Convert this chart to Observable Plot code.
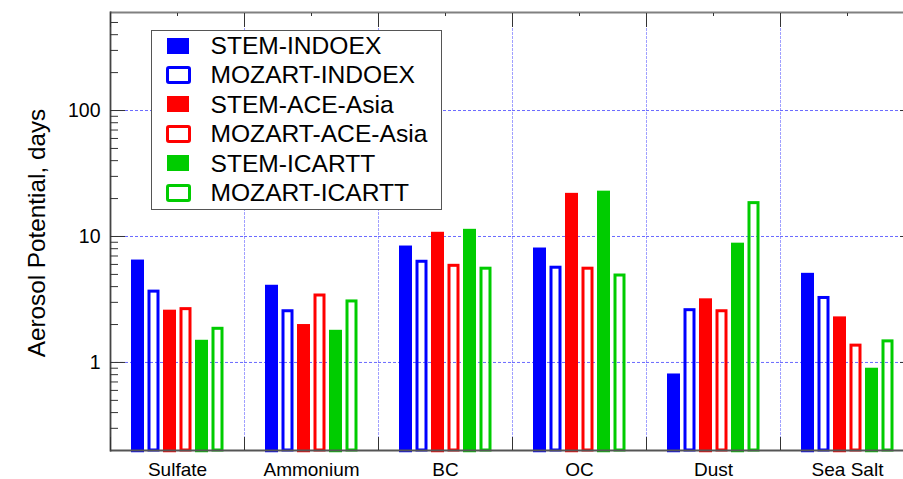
<!DOCTYPE html>
<html><head><meta charset="utf-8">
<script src="https://cdn.jsdelivr.net/npm/d3@7"></script>
<script src="https://cdn.jsdelivr.net/npm/@observablehq/plot@0.6"></script>
<style>
html,body{margin:0;padding:0;background:#fff;overflow:hidden;}
#wrap{position:relative;width:903px;height:479px;overflow:hidden;font-family:"Liberation Sans",Arial,sans-serif;}
#chart{position:absolute;left:0;top:0;width:914px;}
#chart svg{max-width:none !important;display:block;}
#ytitle{position:absolute;left:37.4px;top:232.5px;transform:translate(-50%,-50%) rotate(-90deg);font-size:24.3px;white-space:nowrap;color:#000;line-height:1;}
#legend{position:absolute;left:151px;top:30px;width:291px;height:180px;box-sizing:border-box;border:1.5px solid #555;background:#fff;}
.row{display:flex;align-items:center;height:29.4px;font-size:24.6px;line-height:29.4px;color:#000;}
.sw{width:28px;margin-left:12px;display:flex;justify-content:center;align-items:center;}
.lab{margin-left:18.5px;white-space:nowrap;}
</style></head>
<body>
<div id="wrap"><div id="chart"></div><div id="ytitle"></div><div id="legend"></div></div>
<script>
const categories = ["Sulfate", "Ammonium", "BC", "OC", "Dust", "Sea Salt"];
const series = ["STEM-INDOEX", "MOZART-INDOEX", "STEM-ACE-Asia", "MOZART-ACE-Asia", "STEM-ICARTT", "MOZART-ICARTT"];
const stemIndoex   = [6.5, 4.1, 8.4, 8.1, 0.81, 5.1];
const mozartIndoex = [3.65, 2.55, 6.3, 5.65, 2.6, 3.25];
const stemAceAsia  = [2.6, 2.0, 10.8, 22.0, 3.2, 2.3];
const mozartAceAsia= [2.65, 3.4, 5.85, 5.55, 2.55, 1.36];
const stemIcartt   = [1.5, 1.8, 11.4, 22.9, 8.85, 0.9];
const mozartIcartt = [1.85, 3.05, 5.55, 4.9, 18.4, 1.47];
const tickValues = [1, 10, 100];
const tickLabels = ["1", "10", "100"];
const minorTicks = [0.3,0.4,0.5,0.6,0.7,0.8,0.9,2,3,4,5,6,7,8,9,20,30,40,50,60,70,80,90,200,300,400,500];
const yTitle = "Aerosol Potential, days";

const valuesBySeries = [stemIndoex, mozartIndoex, stemAceAsia, mozartAceAsia, stemIcartt, mozartIcartt];
const rows = [];
series.forEach((s, si) => categories.forEach((c, ci) =>
  rows.push({category: c, series: s, value: valuesBySeries[si][ci], hollow: s.startsWith("MOZART")})));

const colorRange = ["#0000ff", "#0000ff", "#ff0000", "#ff0000", "#00cc00", "#00cc00"];
const W = 914, ML = 110, MR = 0;
const step = (W - ML - MR) / categories.length;
const font = "'Liberation Sans', Arial, sans-serif";

const chart = Plot.plot({
  width: W, height: 479,
  marginLeft: ML, marginRight: MR, marginTop: 12, marginBottom: 29,
  style: {fontFamily: font, background: "white", color: "#000", maxWidth: "none"},
  fx: {domain: categories, padding: 0, label: null},
  x: {domain: series, paddingInner: 0.2, paddingOuter: 1.23, axis: null},
  y: {type: "log", domain: [0.2, 600], label: null},
  color: {domain: series, range: colorRange},
  marks: [
    Plot.frame({anchor: "left", stroke: "#a0a0ff", strokeDasharray: "2,2"}),
    Plot.ruleY(tickValues, {stroke: "#6a6aff", strokeDasharray: "3,2"}),
    Plot.barY(rows.filter(d => !d.hollow), {fx: "category", x: "series", y1: 0.192, y2: "value", fill: "series"}),
    Plot.barY(rows.filter(d => d.hollow), {fx: "category", x: "series", y1: 0.2, y2: "value", stroke: "series", fill: "none", strokeWidth: 3, insetLeft: 2, insetRight: 2}),
    Plot.ruleY([600], {stroke: "#808080", strokeWidth: 2}),
    Plot.ruleY([0.2], {stroke: "#555", strokeWidth: 2}),
    Plot.frame({anchor: "left", fx: categories[0], stroke: "#444", strokeWidth: 1.8}),
    Plot.axisY({anchor: "left", ticks: tickValues, tickSize: 0, tickPadding: 10, fontSize: 19.5, label: null,
      tickFormat: d => tickLabels[tickValues.indexOf(d)]}),
    Plot.axisY({anchor: "left", ticks: tickValues, tickSize: -15, fill: "none", stroke: "#333", label: null}),
    Plot.axisY({anchor: "left", ticks: minorTicks, tickSize: -8, fill: "none", stroke: "#333", label: null}),
    Plot.axisY({anchor: "right", ticks: tickValues, tickSize: -15, fill: "none", stroke: "#333", label: null}),
    Plot.axisFx({anchor: "top", tickSize: -3, fill: "none", stroke: "#333", label: null}),
    Plot.axisFx({anchor: "top", tickSize: -14, fill: "none", stroke: "#333", label: null, dx: -step / 2}),
    Plot.axisFx({anchor: "bottom", tickSize: -13, fill: "none", stroke: "#333", label: null, dx: -step / 2}),
    Plot.axisFx({anchor: "bottom", tickSize: 0, tickPadding: 12, fontSize: 19, label: null})
  ]
});
chart.style.maxWidth = "none";
document.getElementById("chart").appendChild(chart);
document.getElementById("ytitle").textContent = yTitle;

const legend = document.getElementById("legend");
series.forEach((s, i) => {
  const hollow = s.startsWith("MOZART");
  const row = document.createElement("div");
  row.className = "row";
  const sw = document.createElement("div");
  sw.className = "sw";
  const box = document.createElement("div");
  if (hollow) {
    box.style.cssText = `width:19px;height:12px;border:3px solid ${colorRange[i]};border-radius:3px;background:#fff;`;
  } else {
    box.style.cssText = `width:22px;height:16px;background:${colorRange[i]};`;
  }
  sw.appendChild(box);
  const lab = document.createElement("span");
  lab.className = "lab";
  lab.textContent = s;
  row.appendChild(sw); row.appendChild(lab);
  legend.appendChild(row);
});
</script>
</body></html>
